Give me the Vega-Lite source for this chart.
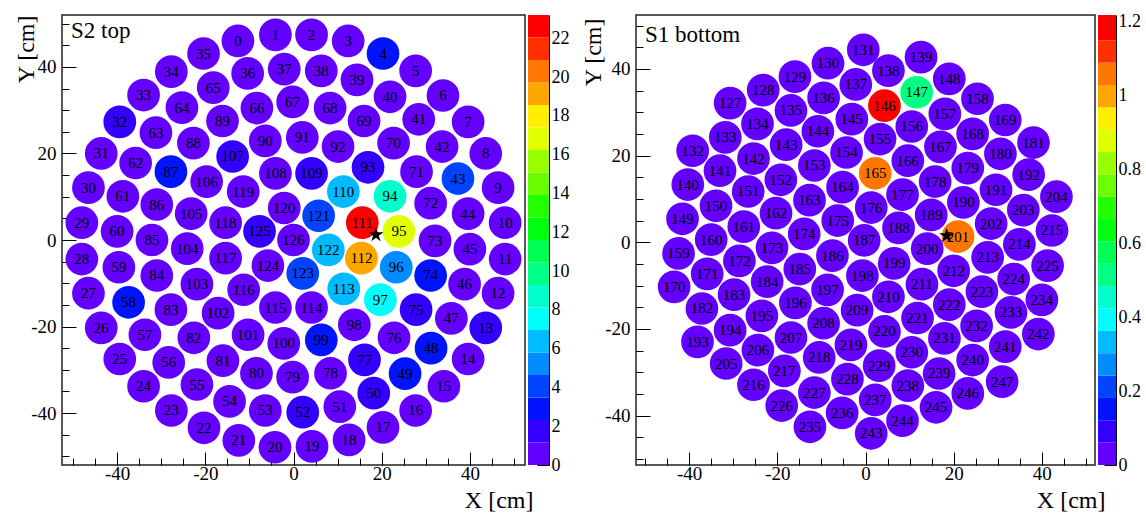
{
"$schema": "https://vega.github.io/schema/vega-lite/v6.json",
"padding": {"left": 13, "top": 12, "right": 0, "bottom": 0},
"config": {
  "font": "Liberation Serif",
  "view": {"stroke": "#222", "strokeWidth": 1.5},
  "axis": {"grid": false, "domain": false, "tickColor": "black", "tickWidth": 1, "labelColor": "black", "labelFont": "Liberation Serif", "labelFontSize": 19, "titleFont": "Liberation Serif", "titleFontSize": 24, "titleFontWeight": "normal", "titleColor": "black", "labelFlush": false, "labelOverlap": false},
  "title": {"font": "Liberation Serif", "fontSize": 23, "fontWeight": "normal", "color": "black"},
  "text": {"font": "Liberation Serif"}
},
"datasets": {
"top": [
{"id":0,"x":-12.6,"y":46.0,"v":0.5},{"id":1,"x":-4.1,"y":47.4,"v":0.5},{"id":2,"x":4.1,"y":47.4,"v":0.5},{"id":3,"x":12.4,"y":46.0,"v":0.5},{"id":4,"x":20.3,"y":43.1,"v":2.9},{"id":5,"x":27.7,"y":39.1,"v":0.5},{"id":6,"x":33.9,"y":33.4,"v":0.5},{"id":7,"x":39.6,"y":27.3,"v":0.5},{"id":8,"x":43.6,"y":20.0,"v":0.5},{"id":9,"x":46.4,"y":12.1,"v":0.5},{"id":10,"x":48.0,"y":4.0,"v":0.5},{"id":11,"x":48.0,"y":-4.4,"v":0.5},{"id":12,"x":46.4,"y":-12.3,"v":0.5},{"id":13,"x":43.6,"y":-20.3,"v":1.8},{"id":14,"x":39.6,"y":-27.5,"v":0.5},{"id":15,"x":34.1,"y":-33.8,"v":0.5},{"id":16,"x":27.7,"y":-39.4,"v":0.5},{"id":17,"x":20.3,"y":-43.3,"v":0.5},{"id":18,"x":12.6,"y":-46.2,"v":0.5},{"id":19,"x":4.2,"y":-47.7,"v":0.5},{"id":20,"x":-4.2,"y":-47.9,"v":0.5},{"id":21,"x":-12.4,"y":-46.3,"v":0.5},{"id":22,"x":-20.3,"y":-43.4,"v":0.5},{"id":23,"x":-27.7,"y":-39.4,"v":0.5},{"id":24,"x":-34.0,"y":-33.8,"v":0.5},{"id":25,"x":-39.4,"y":-27.5,"v":0.5},{"id":26,"x":-43.6,"y":-20.3,"v":0.5},{"id":27,"x":-46.5,"y":-12.3,"v":0.5},{"id":28,"x":-48.0,"y":-4.4,"v":0.5},{"id":29,"x":-48.0,"y":4.0,"v":0.5},{"id":30,"x":-46.5,"y":12.1,"v":0.5},{"id":31,"x":-43.6,"y":20.0,"v":0.5},{"id":32,"x":-39.4,"y":27.3,"v":1.8},{"id":33,"x":-34.0,"y":33.5,"v":0.5},{"id":34,"x":-27.7,"y":38.9,"v":0.5},{"id":35,"x":-20.4,"y":43.1,"v":0.5},
{"id":36,"x":-10.4,"y":38.5,"v":0.5},{"id":37,"x":-2.1,"y":39.5,"v":0.5},{"id":38,"x":6.3,"y":39.1,"v":0.5},{"id":39,"x":14.4,"y":37.0,"v":0.5},{"id":40,"x":21.9,"y":33.1,"v":0.5},{"id":41,"x":28.4,"y":27.9,"v":0.5},{"id":42,"x":33.7,"y":21.6,"v":0.5},{"id":43,"x":37.3,"y":14.2,"v":4.1},{"id":44,"x":39.6,"y":6.1,"v":0.5},{"id":45,"x":40.0,"y":-2.1,"v":0.5},{"id":46,"x":38.8,"y":-10.2,"v":0.5},{"id":47,"x":35.8,"y":-18.1,"v":0.5},{"id":48,"x":31.2,"y":-25.0,"v":2.9},{"id":49,"x":25.3,"y":-30.9,"v":2.9},{"id":50,"x":18.2,"y":-35.4,"v":1.8},{"id":51,"x":10.5,"y":-38.5,"v":0.5},{"id":52,"x":2.1,"y":-39.8,"v":1.8},{"id":53,"x":-6.4,"y":-39.4,"v":0.5},{"id":54,"x":-14.5,"y":-37.3,"v":0.5},{"id":55,"x":-21.9,"y":-33.4,"v":0.5},{"id":56,"x":-28.3,"y":-28.3,"v":0.5},{"id":57,"x":-33.7,"y":-21.9,"v":0.5},{"id":58,"x":-37.4,"y":-14.4,"v":2.9},{"id":59,"x":-39.6,"y":-6.3,"v":0.5},{"id":60,"x":-40.0,"y":2.0,"v":0.5},{"id":61,"x":-38.7,"y":10.1,"v":0.5},{"id":62,"x":-35.8,"y":17.8,"v":0.5},{"id":63,"x":-31.2,"y":24.8,"v":0.5},{"id":64,"x":-25.3,"y":30.6,"v":0.5},{"id":65,"x":-18.2,"y":35.2,"v":0.5},
{"id":66,"x":-8.3,"y":30.5,"v":0.5},{"id":67,"x":-0.2,"y":31.9,"v":0.5},{"id":68,"x":8.3,"y":30.5,"v":0.5},{"id":69,"x":16.0,"y":27.5,"v":0.5},{"id":70,"x":22.7,"y":22.4,"v":0.5},{"id":71,"x":27.9,"y":15.8,"v":0.5},{"id":72,"x":31.1,"y":8.5,"v":0.5},{"id":73,"x":32.1,"y":-0.2,"v":0.5},{"id":74,"x":31.1,"y":-8.2,"v":2.9},{"id":75,"x":27.8,"y":-16.1,"v":1.8},{"id":76,"x":22.8,"y":-22.6,"v":0.5},{"id":77,"x":16.1,"y":-27.7,"v":1.8},{"id":78,"x":8.4,"y":-30.8,"v":0.5},{"id":79,"x":-0.2,"y":-31.7,"v":0.5},{"id":80,"x":-8.4,"y":-30.8,"v":0.5},{"id":81,"x":-16.0,"y":-27.9,"v":0.5},{"id":82,"x":-22.6,"y":-22.6,"v":0.5},{"id":83,"x":-27.8,"y":-16.1,"v":0.5},{"id":84,"x":-31.0,"y":-8.2,"v":0.5},{"id":85,"x":-32.1,"y":0.0,"v":0.5},{"id":86,"x":-31.0,"y":8.2,"v":0.5},{"id":87,"x":-27.8,"y":15.8,"v":2.9},{"id":88,"x":-22.7,"y":22.4,"v":0.5},{"id":89,"x":-16.1,"y":27.5,"v":0.5},
{"id":90,"x":-6.4,"y":22.9,"v":0.5},{"id":91,"x":2.0,"y":23.7,"v":0.5},{"id":92,"x":10.1,"y":21.6,"v":0.5},{"id":93,"x":16.9,"y":16.8,"v":1.8},{"id":94,"x":21.9,"y":10.1,"v":8.7},{"id":95,"x":23.9,"y":2.0,"v":16.8},{"id":96,"x":23.3,"y":-6.3,"v":5.2},{"id":97,"x":19.7,"y":-13.8,"v":7.5},{"id":98,"x":13.8,"y":-19.6,"v":0.5},{"id":99,"x":6.3,"y":-23.1,"v":2.9},{"id":100,"x":-2.2,"y":-23.9,"v":0.5},{"id":101,"x":-10.3,"y":-21.9,"v":0.5},{"id":102,"x":-17.1,"y":-16.9,"v":0.5},{"id":103,"x":-21.9,"y":-10.2,"v":0.5},{"id":104,"x":-24.1,"y":-2.0,"v":0.5},{"id":105,"x":-23.2,"y":6.1,"v":0.5},{"id":106,"x":-19.7,"y":13.5,"v":0.5},{"id":107,"x":-13.8,"y":19.3,"v":1.8},
{"id":108,"x":-4.1,"y":15.4,"v":0.5},{"id":109,"x":4.1,"y":15.4,"v":1.8},{"id":110,"x":11.3,"y":11.2,"v":6.4},{"id":111,"x":15.6,"y":4.0,"v":23.2},{"id":112,"x":15.4,"y":-4.2,"v":19.1},{"id":113,"x":11.4,"y":-11.3,"v":6.4},{"id":114,"x":4.1,"y":-15.6,"v":0.5},{"id":115,"x":-4.1,"y":-15.6,"v":0.5},{"id":116,"x":-11.3,"y":-11.5,"v":0.5},{"id":117,"x":-15.4,"y":-4.2,"v":0.5},{"id":118,"x":-15.4,"y":4.0,"v":0.5},{"id":119,"x":-11.4,"y":11.2,"v":0.5},
{"id":120,"x":-2.1,"y":7.4,"v":0.5},{"id":121,"x":5.7,"y":5.6,"v":4.1},{"id":122,"x":7.9,"y":-2.3,"v":6.4},{"id":123,"x":2.1,"y":-7.7,"v":4.1},{"id":124,"x":-5.8,"y":-5.9,"v":0.5},{"id":125,"x":-7.7,"y":2.0,"v":1.8},{"id":126,"x":0.0,"y":0.0,"v":0.5}
],
"bottom": [
{"id":127,"x":-30.7,"y":32.1,"v":0.02},{"id":128,"x":-23.2,"y":35.1,"v":0.02},{"id":129,"x":-16.0,"y":38.2,"v":0.02},{"id":130,"x":-8.5,"y":41.3,"v":0.02},{"id":131,"x":-0.5,"y":44.4,"v":0.02},{"id":132,"x":-39.2,"y":21.1,"v":0.02},{"id":133,"x":-31.8,"y":24.2,"v":0.02},{"id":134,"x":-24.5,"y":27.3,"v":0.02},{"id":135,"x":-16.9,"y":30.4,"v":0.02},{"id":136,"x":-9.5,"y":33.3,"v":0.02},{"id":137,"x":-2.2,"y":36.4,"v":0.02},{"id":138,"x":5.2,"y":39.6,"v":0.02},{"id":139,"x":12.6,"y":42.7,"v":0.02},{"id":140,"x":-40.3,"y":13.3,"v":0.02},{"id":141,"x":-33.0,"y":16.5,"v":0.02},{"id":142,"x":-25.4,"y":19.3,"v":0.02},{"id":143,"x":-18.0,"y":22.5,"v":0.02},{"id":144,"x":-10.8,"y":25.6,"v":0.02},{"id":145,"x":-3.1,"y":28.4,"v":0.02},{"id":146,"x":4.3,"y":31.5,"v":1.21},{"id":147,"x":11.6,"y":34.6,"v":0.51},{"id":148,"x":19.0,"y":37.7,"v":0.02},{"id":149,"x":-41.5,"y":5.4,"v":0.02},{"id":150,"x":-33.9,"y":8.4,"v":0.02},{"id":151,"x":-26.6,"y":11.7,"v":0.02},{"id":152,"x":-19.2,"y":14.4,"v":0.02},{"id":153,"x":-11.6,"y":17.7,"v":0.02},{"id":154,"x":-4.3,"y":20.7,"v":0.02},{"id":155,"x":3.3,"y":23.8,"v":0.02},{"id":156,"x":10.5,"y":26.7,"v":0.02},{"id":157,"x":18.0,"y":29.6,"v":0.02},{"id":158,"x":25.4,"y":33.1,"v":0.02},{"id":159,"x":-42.4,"y":-2.6,"v":0.02},{"id":160,"x":-35.0,"y":0.6,"v":0.02},{"id":161,"x":-27.6,"y":3.6,"v":0.02},{"id":162,"x":-20.3,"y":6.7,"v":0.02},{"id":163,"x":-12.7,"y":9.7,"v":0.02},{"id":164,"x":-5.2,"y":12.7,"v":0.02},{"id":165,"x":2.2,"y":15.9,"v":1.06},{"id":166,"x":9.6,"y":18.8,"v":0.02},{"id":167,"x":17.0,"y":22.0,"v":0.02},{"id":168,"x":24.3,"y":25.0,"v":0.02},{"id":169,"x":31.7,"y":28.2,"v":0.02},{"id":170,"x":-43.4,"y":-10.3,"v":0.02},{"id":171,"x":-35.9,"y":-7.3,"v":0.02},{"id":172,"x":-28.6,"y":-4.3,"v":0.02},{"id":173,"x":-21.2,"y":-1.3,"v":0.02},{"id":174,"x":-13.9,"y":1.9,"v":0.02},{"id":175,"x":-6.3,"y":5.0,"v":0.02},{"id":176,"x":1.3,"y":8.0,"v":0.02},{"id":177,"x":8.4,"y":11.0,"v":0.02},{"id":178,"x":15.8,"y":14.0,"v":0.02},{"id":179,"x":23.2,"y":17.1,"v":0.02},{"id":180,"x":30.6,"y":20.4,"v":0.02},{"id":181,"x":38.1,"y":23.0,"v":0.02},{"id":182,"x":-37.1,"y":-15.3,"v":0.02},{"id":183,"x":-29.8,"y":-12.1,"v":0.02},{"id":184,"x":-22.3,"y":-9.1,"v":0.02},{"id":185,"x":-14.9,"y":-6.2,"v":0.02},{"id":186,"x":-7.5,"y":-3.1,"v":0.02},{"id":187,"x":-0.3,"y":0.4,"v":0.02},{"id":188,"x":7.5,"y":3.3,"v":0.02},{"id":189,"x":14.9,"y":6.3,"v":0.02},{"id":190,"x":22.2,"y":9.2,"v":0.02},{"id":191,"x":29.6,"y":12.1,"v":0.02},{"id":192,"x":37.0,"y":15.6,"v":0.02},{"id":193,"x":-38.1,"y":-23.0,"v":0.02},{"id":194,"x":-30.7,"y":-20.3,"v":0.02},{"id":195,"x":-23.5,"y":-17.0,"v":0.02},{"id":196,"x":-15.9,"y":-14.0,"v":0.02},{"id":197,"x":-8.6,"y":-11.0,"v":0.02},{"id":198,"x":-0.7,"y":-7.7,"v":0.02},{"id":199,"x":6.5,"y":-4.9,"v":0.02},{"id":200,"x":14.0,"y":-1.5,"v":0.02},{"id":201,"x":21.0,"y":1.3,"v":1.06},{"id":202,"x":28.5,"y":4.3,"v":0.02},{"id":203,"x":35.8,"y":7.4,"v":0.02},{"id":204,"x":43.3,"y":10.5,"v":0.02},{"id":205,"x":-31.6,"y":-28.0,"v":0.02},{"id":206,"x":-24.4,"y":-24.9,"v":0.02},{"id":207,"x":-16.9,"y":-22.0,"v":0.02},{"id":208,"x":-9.5,"y":-18.7,"v":0.02},{"id":209,"x":-1.9,"y":-15.7,"v":0.02},{"id":210,"x":5.2,"y":-12.6,"v":0.02},{"id":211,"x":12.8,"y":-9.7,"v":0.02},{"id":212,"x":20.0,"y":-6.6,"v":0.02},{"id":213,"x":27.7,"y":-3.5,"v":0.02},{"id":214,"x":34.9,"y":-0.5,"v":0.02},{"id":215,"x":42.3,"y":2.7,"v":0.02},{"id":216,"x":-25.4,"y":-32.9,"v":0.02},{"id":217,"x":-18.4,"y":-29.7,"v":0.02},{"id":218,"x":-10.5,"y":-26.6,"v":0.02},{"id":219,"x":-3.3,"y":-23.7,"v":0.02},{"id":220,"x":4.3,"y":-20.6,"v":0.02},{"id":221,"x":11.8,"y":-17.5,"v":0.02},{"id":222,"x":19.0,"y":-14.4,"v":0.02},{"id":223,"x":26.4,"y":-11.4,"v":0.02},{"id":224,"x":33.6,"y":-8.5,"v":0.02},{"id":225,"x":41.3,"y":-5.4,"v":0.02},{"id":226,"x":-19.0,"y":-37.7,"v":0.02},{"id":227,"x":-11.6,"y":-34.7,"v":0.02},{"id":228,"x":-4.1,"y":-31.6,"v":0.02},{"id":229,"x":3.1,"y":-28.5,"v":0.02},{"id":230,"x":10.5,"y":-25.4,"v":0.02},{"id":231,"x":17.9,"y":-22.2,"v":0.02},{"id":232,"x":25.2,"y":-19.3,"v":0.02},{"id":233,"x":33.0,"y":-16.2,"v":0.02},{"id":234,"x":40.0,"y":-13.3,"v":0.02},{"id":235,"x":-12.6,"y":-42.6,"v":0.02},{"id":236,"x":-5.3,"y":-39.4,"v":0.02},{"id":237,"x":2.2,"y":-36.4,"v":0.02},{"id":238,"x":9.6,"y":-33.1,"v":0.02},{"id":239,"x":16.7,"y":-30.3,"v":0.02},{"id":240,"x":24.3,"y":-27.2,"v":0.02},{"id":241,"x":31.7,"y":-24.1,"v":0.02},{"id":242,"x":39.2,"y":-21.2,"v":0.02},{"id":243,"x":1.3,"y":-44.1,"v":0.02},{"id":244,"x":8.4,"y":-41.2,"v":0.02},{"id":245,"x":16.0,"y":-38.1,"v":0.02},{"id":246,"x":23.2,"y":-34.9,"v":0.02},{"id":247,"x":31.0,"y":-32.2,"v":0.02}
]
},
"bounds": "flush",
"spacing": 3,
"resolve": {"scale": {"color": "independent"}},
"hconcat": [
   {"width": 463, "height": 450,
    "title": {"text": "S2 top", "anchor": "start", "frame": "group", "dx": 9, "dy": 22, "offset": -24, "baseline": "alphabetic"},
    "data": {"name": "top"},
    "resolve": {"axis": {"x": "independent", "y": "independent"}},
    "layer": [
     {"mark": {"type": "point", "shape": "circle", "filled": true, "opacity": 1, "size": 1070},
      "encoding": {
       "x": {"field": "x", "type": "quantitative", "scale": {"domain": [-52.5, 52.5], "nice": false, "zero": false},
             "axis": {"orient": "bottom", "values": [-40,-20,0,20,40], "tickSize": -13, "labelPadding": 12, "labelExpr": "'' + datum.value", "title": "X [cm]", "titleAnchor": "end", "titleAlign": "right", "titleX": 471, "titleY": 42, "titleBaseline": "alphabetic"}},
       "y": {"field": "y", "type": "quantitative", "scale": {"domain": [-52, 52], "nice": false, "zero": false},
             "axis": {"orient": "left", "values": [-40,-20,0,20,40], "tickSize": -14, "labelPadding": 20, "labelExpr": "'' + datum.value", "title": "Y [cm]", "titleAnchor": "end", "titleAlign": "right", "titleAngle": 270, "titleX": -29, "titleY": 0, "titleBaseline": "alphabetic"}},
       "color": {"field": "v", "type": "quantitative", "legend": null,
             "scale": {"type": "quantize", "domain": [0, 23.2], "range": ["#6300ff","#3300ff","#0014ff","#0044ff","#008bff","#00bbff","#00fffc","#00ffcc","#00ff85","#00ff55","#00ff0e","#22ff00","#69ff00","#99ff00","#e0ff00","#ffee00","#ffa700","#ff7700","#ff3000","#ff0000"]}}
      }},
     {"mark": {"type": "text", "fontSize": 15, "color": "black", "font": "Liberation Serif", "baseline": "middle"},
      "encoding": {
       "x": {"field": "x", "type": "quantitative", "axis": {"orient": "bottom", "values": [-50,-45,-40,-35,-30,-25,-20,-15,-10,-5,0,5,10,15,20,25,30,35,40,45,50], "tickSize": -7, "labels": false, "title": null}},
       "y": {"field": "y", "type": "quantitative", "axis": {"orient": "left", "values": [-50,-45,-40,-35,-30,-25,-20,-15,-10,-5,0,5,10,15,20,25,30,35,40,45,50], "tickSize": -7, "labels": false, "title": null}},
       "text": {"field": "id", "type": "nominal"}
      }},
     {"data": {"values": [{"x": 18.7, "y": 1.2}]},
      "mark": {"type": "point", "shape": "M0,-1L0.2245,-0.309L0.951,-0.309L0.363,0.118L0.588,0.809L0,0.382L-0.588,0.809L-0.363,0.118L-0.951,-0.309L-0.2245,-0.309Z", "filled": true, "color": "black", "opacity": 1, "size": 250},
      "encoding": {"x": {"field": "x", "type": "quantitative", "axis": null}, "y": {"field": "y", "type": "quantitative", "axis": null}}}
    ]},
   {"width": 21, "height": 450, "view": {"stroke": null},
    "data": {"values": [
     {"lo":0,"hi":1.16,"mid":0.58},{"lo":1.16,"hi":2.32,"mid":1.74},{"lo":2.32,"hi":3.48,"mid":2.9},{"lo":3.48,"hi":4.64,"mid":4.06},{"lo":4.64,"hi":5.8,"mid":5.22},{"lo":5.8,"hi":6.96,"mid":6.38},{"lo":6.96,"hi":8.12,"mid":7.54},{"lo":8.12,"hi":9.28,"mid":8.7},{"lo":9.28,"hi":10.44,"mid":9.86},{"lo":10.44,"hi":11.6,"mid":11.02},{"lo":11.6,"hi":12.76,"mid":12.18},{"lo":12.76,"hi":13.92,"mid":13.34},{"lo":13.92,"hi":15.08,"mid":14.5},{"lo":15.08,"hi":16.24,"mid":15.66},{"lo":16.24,"hi":17.4,"mid":16.82},{"lo":17.4,"hi":18.56,"mid":17.98},{"lo":18.56,"hi":19.72,"mid":19.14},{"lo":19.72,"hi":20.88,"mid":20.3},{"lo":20.88,"hi":22.04,"mid":21.46},{"lo":22.04,"hi":23.2,"mid":22.62}
    ]},
    "mark": {"type": "rect"},
    "encoding": {
     "y": {"field": "lo", "type": "quantitative", "scale": {"domain": [0, 23.2], "nice": false, "zero": false},
           "axis": {"orient": "right", "values": [0,2,4,6,8,10,12,14,16,18,20,22], "tickSize": -12, "domain": true, "domainColor": "black", "domainWidth": 1, "labelPadding": 14, "labelExpr": "'' + datum.value", "title": null, "labelFontSize": 18}},
     "y2": {"field": "hi"},
     "color": {"field": "mid", "type": "quantitative", "legend": null,
           "scale": {"type": "quantize", "domain": [0, 23.2], "range": ["#6300ff","#3300ff","#0014ff","#0044ff","#008bff","#00bbff","#00fffc","#00ffcc","#00ff85","#00ff55","#00ff0e","#22ff00","#69ff00","#99ff00","#e0ff00","#ffee00","#ffa700","#ff7700","#ff3000","#ff0000"]}}
    }},
   {"width": 81, "height": 10, "view": {"stroke": null}, "data": {"values": []}, "mark": "point"},
   {"width": 459, "height": 450,
    "title": {"text": "S1 bottom", "anchor": "start", "frame": "group", "dx": 9, "dy": 26, "offset": -24, "baseline": "alphabetic"},
    "data": {"name": "bottom"},
    "resolve": {"axis": {"x": "independent", "y": "independent"}},
    "layer": [
     {"mark": {"type": "point", "shape": "circle", "filled": true, "opacity": 1, "size": 1070},
      "encoding": {
       "x": {"field": "x", "type": "quantitative", "scale": {"domain": [-52.05, 52.05], "nice": false, "zero": false},
             "axis": {"orient": "bottom", "values": [-40,-20,0,20,40], "tickSize": -13, "labelPadding": 12, "labelExpr": "'' + datum.value", "title": "X [cm]", "titleAnchor": "end", "titleAlign": "right", "titleX": 469, "titleY": 42, "titleBaseline": "alphabetic"}},
       "y": {"field": "y", "type": "quantitative", "scale": {"domain": [-51.42, 52.43], "nice": false, "zero": false},
             "axis": {"orient": "left", "values": [-40,-20,0,20,40], "tickSize": -14, "labelPadding": 20, "labelExpr": "'' + datum.value", "title": "Y [cm]", "titleAnchor": "end", "titleAlign": "right", "titleAngle": 270, "titleX": -36, "titleY": 3, "titleBaseline": "alphabetic"}},
       "color": {"field": "v", "type": "quantitative", "legend": null,
             "scale": {"type": "quantize", "domain": [0, 1.21], "range": ["#6300ff","#3300ff","#0014ff","#0044ff","#008bff","#00bbff","#00fffc","#00ffcc","#00ff85","#00ff55","#00ff0e","#22ff00","#69ff00","#99ff00","#e0ff00","#ffee00","#ffa700","#ff7700","#ff3000","#ff0000"]}}
      }},
     {"mark": {"type": "text", "fontSize": 15, "color": "black", "font": "Liberation Serif", "baseline": "middle"},
      "encoding": {
       "x": {"field": "x", "type": "quantitative", "axis": {"orient": "bottom", "values": [-50,-45,-40,-35,-30,-25,-20,-15,-10,-5,0,5,10,15,20,25,30,35,40,45,50], "tickSize": -7, "labels": false, "title": null}},
       "y": {"field": "y", "type": "quantitative", "axis": {"orient": "left", "values": [-50,-45,-40,-35,-30,-25,-20,-15,-10,-5,0,5,10,15,20,25,30,35,40,45,50], "tickSize": -7, "labels": false, "title": null}},
       "text": {"field": "id", "type": "nominal"}
      }},
     {"data": {"values": [{"x": 18.4, "y": 1.5}]},
      "mark": {"type": "point", "shape": "M0,-1L0.2245,-0.309L0.951,-0.309L0.363,0.118L0.588,0.809L0,0.382L-0.588,0.809L-0.363,0.118L-0.951,-0.309L-0.2245,-0.309Z", "filled": true, "color": "black", "opacity": 1, "size": 250},
      "encoding": {"x": {"field": "x", "type": "quantitative", "axis": null}, "y": {"field": "y", "type": "quantitative", "axis": null}}}
    ]},
   {"width": 18, "height": 450, "view": {"stroke": null},
    "data": {"values": [
     {"lo":0,"hi":0.0605,"mid":0.03},{"lo":0.0605,"hi":0.121,"mid":0.091},{"lo":0.121,"hi":0.1815,"mid":0.151},{"lo":0.1815,"hi":0.242,"mid":0.212},{"lo":0.242,"hi":0.3025,"mid":0.272},{"lo":0.3025,"hi":0.363,"mid":0.333},{"lo":0.363,"hi":0.4235,"mid":0.393},{"lo":0.4235,"hi":0.484,"mid":0.454},{"lo":0.484,"hi":0.5445,"mid":0.514},{"lo":0.5445,"hi":0.605,"mid":0.575},{"lo":0.605,"hi":0.6655,"mid":0.635},{"lo":0.6655,"hi":0.726,"mid":0.696},{"lo":0.726,"hi":0.7865,"mid":0.756},{"lo":0.7865,"hi":0.847,"mid":0.817},{"lo":0.847,"hi":0.9075,"mid":0.877},{"lo":0.9075,"hi":0.968,"mid":0.938},{"lo":0.968,"hi":1.0285,"mid":0.998},{"lo":1.0285,"hi":1.089,"mid":1.059},{"lo":1.089,"hi":1.1495,"mid":1.119},{"lo":1.1495,"hi":1.218,"mid":1.18}
    ]},
    "mark": {"type": "rect"},
    "encoding": {
     "y": {"field": "lo", "type": "quantitative", "scale": {"domain": [0, 1.218], "nice": false, "zero": false},
           "axis": {"orient": "right", "values": [0,0.2,0.4,0.6,0.8,1,1.2], "tickSize": -12, "domain": true, "domainColor": "black", "domainWidth": 1, "labelPadding": 14, "labelExpr": "'' + datum.value", "title": null, "labelFontSize": 18}},
     "y2": {"field": "hi"},
     "color": {"field": "mid", "type": "quantitative", "legend": null,
           "scale": {"type": "quantize", "domain": [0, 1.21], "range": ["#6300ff","#3300ff","#0014ff","#0044ff","#008bff","#00bbff","#00fffc","#00ffcc","#00ff85","#00ff55","#00ff0e","#22ff00","#69ff00","#99ff00","#e0ff00","#ffee00","#ffa700","#ff7700","#ff3000","#ff0000"]}}
    }}
]
}
